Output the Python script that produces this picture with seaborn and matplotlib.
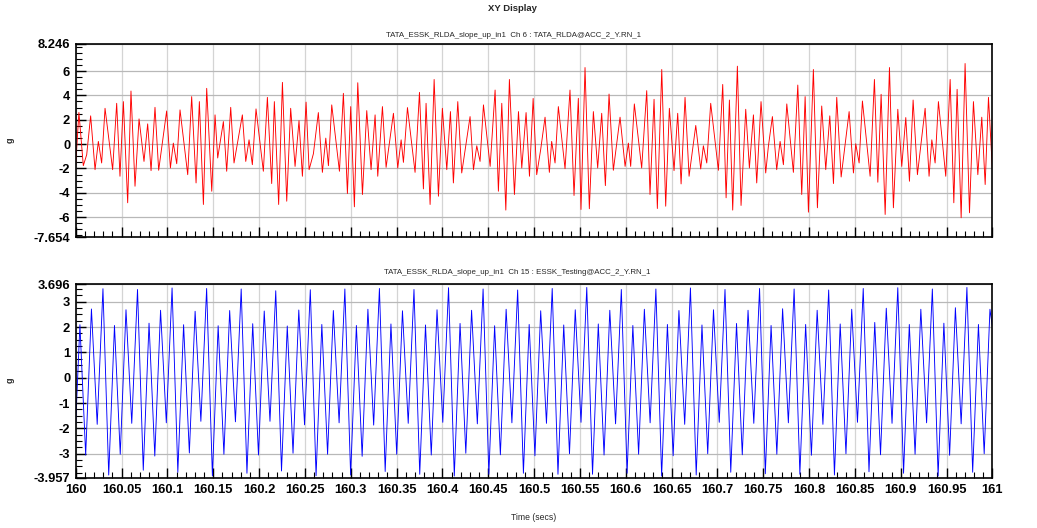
import numpy as np
import pandas as pd
import matplotlib
matplotlib.use("Agg")
import matplotlib.pyplot as plt
from matplotlib.ticker import FixedLocator, MultipleLocator
import seaborn as sns

# ---------------- data ----------------
T_START = 160.0
T_END = 161.0

# Channel 6 (red): extrema, time offset in ms from 160 s, value in g
red_ms = [0, 3.5, 8.3, 12.0, 16.3, 21.1, 24.7, 28.3, 32.0, 40.3, 44.7, 48.3, 52.0, 56.7, 60.3, 64.7,
          69.1, 74.5, 78.5, 82.2, 86.5, 90.5, 99.2, 103.3, 106.5, 110.2, 113.8, 122.2, 126.5, 131.3,
          134.9, 139.3, 142.9, 148.4, 152.0, 154.9, 161.1, 164.7, 169.1, 172.7, 181.8, 185.5, 189.1,
          192.7, 196.7, 204.7, 209.1, 213.8, 216.7, 221.4, 225.5, 230.2, 234.5, 239.3, 243.6, 247.3,
          251.3, 254.6, 259.3, 264.7, 269.1, 272.8, 275.7, 279.3, 287.7, 292.0, 296.4, 300.0, 304.0,
          307.7, 312.8, 317.5, 322.2, 326.6, 329.5, 334.6, 338.6, 346.6, 351.3, 355.0, 357.5, 361.9,
          370.2, 375.0, 379.3, 382.2, 386.6, 391.0, 395.7, 400.0, 404.8, 408.8, 412.0, 416.8, 421.1,
          430.2, 433.9, 437.5, 441.1, 444.8, 452.1, 457.5, 461.1, 464.8, 469.2, 473.1, 478.6, 483.0,
          486.6, 491.3, 495.0, 499.0, 502.9, 507.2, 512.0, 516.7, 519.2, 522.9, 526.5, 533.8, 539.2,
          543.6, 548.3, 551.2, 555.6, 560.3, 564.7, 569.4, 573.8, 577.8, 581.8, 586.5, 593.8, 599.3,
          602.9, 605.4, 609.4, 617.4, 622.9, 626.5, 630.9, 634.5, 639.3, 643.6, 647.6, 652.7, 656.7,
          660.4, 664.7, 669.1, 676.4, 681.8, 684.7, 688.4, 692.7, 701.1, 705.8, 709.5, 713.1, 716.7,
          721.8, 725.8, 730.9, 734.9, 739.3, 742.9, 747.6, 752.7, 755.6, 760.0, 764.7, 768.4, 772.0,
          775.7, 782.9, 787.7, 792.0, 795.7, 799.3, 804.7, 809.1, 813.8, 818.2, 822.6, 826.6, 830.2,
          835.0, 843.7, 848.4, 850.9, 854.6, 858.2, 866.6, 871.3, 875.0, 878.6, 883.0, 887.7, 892.0,
          896.8, 901.1, 905.5, 909.5, 913.5, 918.2, 926.6, 930.9, 933.9, 937.5, 941.1, 949.1, 953.9,
          957.9, 961.5, 965.9, 970.2, 975.0, 979.3, 984.1, 988.4, 992.1, 995.7, 1000.0]
red_g = [-1.7, 2.6, -1.77, -0.87, 2.32, -2.10, 0.22, -1.55, 2.94, -2.10, 3.35, -2.64, 3.49, -4.82, 4.36, -3.46,
         2.07, -1.42, 1.66, -2.18, 3.02, -2.15, 2.72, -1.96, 0.08, -1.61, 2.81, -2.51, 3.90, -3.19,
         3.49, -4.96, 4.58, -3.87, 2.40, -1.14, 1.85, -2.23, 3.02, -1.55, 2.40, -1.42, 0.35,
         -1.69, 2.89, -2.23, 3.84, -3.24, 3.49, -4.96, 5.07, -4.69, 2.94, -1.83, 1.93, -2.64,
         3.45, -2.10, -0.79, 2.59, -2.32, 0.49, -1.77, 3.22, -2.23, 4.17, -4.06, 3.08, -5.15,
         5.04, -4.14, 2.75, -2.10, 2.40, -2.64, 3.08, -1.91, 2.53, -1.96, 0.35, -1.50, 3.00,
         -2.32, 4.25, -3.68, 3.35, -4.96, 5.31, -4.28, 2.94, -2.10, 2.67, -3.19, 3.49, -2.37,
         2.26, -2.10, -0.14, -1.42, 3.22, -1.83, 4.44, -3.87, 3.35, -5.42, 5.31, -4.14, 2.67,
         -1.96, 2.59, -2.64, 3.75, -2.51, -0.46, 2.21, -2.32, 0.22, -1.55, 3.08, -2.02, 4.44,
         -4.22, 3.76, -5.37, 6.29, -5.31, 2.67, -1.96, 2.53, -3.41, 4.11, -2.15, 2.21, -1.83,
         0.08, -1.83, 3.30, -1.96, 4.39, -4.14, 3.68, -5.29, 6.13, -5.10, 2.94, -2.18, 2.53,
         -3.27, 3.84, -2.64, 1.53, -2.04, -0.14, -1.55, 3.35, -2.15, 4.90, -4.41, 3.62, -5.42,
         6.40, -5.04, 2.86, -1.96, 2.40, -3.19, 3.49, -2.37, -0.19, 2.26, -2.10, 0.22, -1.69,
         3.30, -2.32, 4.85, -4.14, 3.90, -5.59, 6.13, -5.23, 3.13, -2.10, 2.32, -3.24, 3.84,
         -2.70, 2.67, -2.37, 0.03, -1.55, 3.54, -2.64, 5.31, -3.13, 4.09, -5.78, 6.29, -5.23,
         2.86, -1.83, 2.18, -3.05, 3.62, -2.51, 2.94, -2.64, 0.35, -1.55, 3.49, -2.64, 5.31,
         -4.82, 4.50, -6.05, 6.62, -5.64, 3.49, -2.51, 2.21, -3.32, 3.84, -2.10]

# Channel 15 (blue): quasi-periodic signal, one value per extremum type per 3-cycle group
BLUE_FIRST_MS = 4.6      # time of the first extremum
BLUE_HALF_MS = 6.283     # spacing between successive extrema
blue_start_g = -1.8
blue_end_g = 2.0
blue_small_peak = [2.09, 2.06, 2.15, 2.09, 2.05, 2.13, 2.04, 2.10, 2.06, 2.12, 2.08, 2.14, 2.05, 2.10,
                   2.08, 2.12, 2.06, 2.10, 2.08, 2.14, 2.06, 2.10, 2.12, 2.18, 2.10, 2.15, 2.10]
blue_mid_trough = [-3.05, -3.02, -3.09, -2.97, -3.02, -3.05, -2.98, -3.02, -3.10, -3.02, -3.05, -2.98,
                   -3.04, -3.08, -3.00, -3.05, -3.02, -3.08, -3.00, -3.04, -3.02, -3.06, -3.00,
                   -3.04, -3.02, -3.06, -3.00]
blue_mid_peak = [2.71, 2.68, 2.66, 2.62, 2.65, 2.63, 2.67, 2.65, 2.70, 2.64, 2.68, 2.66, 2.70, 2.64,
                 2.68, 2.66, 2.70, 2.65, 2.68, 2.66, 2.72, 2.66, 2.70, 2.74, 2.70, 2.76, 2.70]
blue_shallow_trough = [-1.84, -1.80, -1.78, -1.72, -1.74, -1.72, -1.86, -1.78, -1.87, -1.80, -1.76,
                       -1.82, -1.78, -1.80, -1.76, -1.82, -1.78, -1.84, -1.76, -1.80, -1.78, -1.84,
                       -1.76, -1.80, -1.78, -1.82]
blue_tall_peak = [3.51, 3.48, 3.54, 3.52, 3.50, 3.43, 3.47, 3.50, 3.52, 3.48, 3.55, 3.50, 3.46, 3.52,
                  3.56, 3.48, 3.50, 3.54, 3.48, 3.52, 3.50, 3.46, 3.52, 3.55, 3.50, 3.56]
blue_deep_trough = [-3.84, -3.65, -3.73, -3.87, -3.77, -3.68, -3.87, -3.84, -3.70, -3.81, -3.88, -3.81,
                    -3.77, -3.81, -3.81, -3.77, -3.88, -3.84, -3.73, -3.79, -3.81, -3.84, -3.71,
                    -3.77, -3.88, -3.73]

top_title = "TATA_ESSK_RLDA_slope_up_in1  Ch 6 : TATA_RLDA@ACC_2_Y.RN_1"
bot_title = "TATA_ESSK_RLDA_slope_up_in1  Ch 15 : ESSK_Testing@ACC_2_Y.RN_1"
top_ylim = (-7.654, 8.246)
bot_ylim = (-3.957, 3.696)
top_yticks = [-7.654, -6, -4, -2, 0, 2, 4, 6, 8.246]
bot_yticks = [-3.957, -3, -2, -1, 0, 1, 2, 3, 3.696]
x_ticks = [160, 160.05, 160.1, 160.15, 160.2, 160.25, 160.3, 160.35, 160.4, 160.45, 160.5, 160.55,
           160.6, 160.65, 160.7, 160.75, 160.8, 160.85, 160.9, 160.95, 161]
x_ticklabels = ["160", "160.05", "160.1", "160.15", "160.2", "160.25", "160.3", "160.35", "160.4",
                "160.45", "160.5", "160.55", "160.6", "160.65", "160.7", "160.75", "160.8", "160.85",
                "160.9", "160.95", "161"]

# ---------------- build tables ----------------
red_df = pd.DataFrame({"t": T_START + np.array(red_ms) / 1000.0, "g": red_g})

blue_vals = []
for j in range(len(blue_small_peak)):
    blue_vals += [blue_small_peak[j], blue_mid_trough[j], blue_mid_peak[j]]
    if j < len(blue_deep_trough):
        blue_vals += [blue_shallow_trough[j], blue_tall_peak[j], blue_deep_trough[j]]
blue_ms = BLUE_FIRST_MS + BLUE_HALF_MS * np.arange(len(blue_vals))
blue_t = np.concatenate([[0.0], blue_ms, [1000.0]])
blue_g = np.concatenate([[blue_start_g], blue_vals, [blue_end_g]])
blue_df = pd.DataFrame({"t": T_START + blue_t / 1000.0, "g": blue_g})

# ---------------- style ----------------
sns.set_theme(style="white")
plt.rcParams["font.family"] = ["Liberation Sans", "DejaVu Sans"]

fig = plt.figure(figsize=(10.37, 5.28), dpi=100)
ax1 = fig.add_axes([0.073, 0.5506, 0.884, 0.3666])
ax2 = fig.add_axes([0.073, 0.0947, 0.884, 0.3674])

sns.lineplot(data=red_df, x="t", y="g", ax=ax1, color="#ff0000", linewidth=0.65,
             estimator=None, sort=False)
sns.lineplot(data=blue_df, x="t", y="g", ax=ax2, color="#0000ff", linewidth=0.65,
             estimator=None, sort=False)


def style_axes(ax, ylim, yticks, yminor, show_xlabels):
    ax.set_xlim(T_START, T_END)
    ax.set_ylim(*ylim)
    ax.set_xlabel("")
    ax.set_ylabel("")
    ax.set_facecolor("white")
    ax.xaxis.set_major_locator(FixedLocator(x_ticks))
    ax.xaxis.set_minor_locator(MultipleLocator(0.01))
    ax.yaxis.set_major_locator(FixedLocator(yticks))
    ax.yaxis.set_minor_locator(MultipleLocator(yminor))
    ax.set_yticklabels([("%g" % v) for v in yticks])
    if show_xlabels:
        ax.set_xticklabels(x_ticklabels)
    else:
        ax.set_xticklabels([])
    ax.tick_params(axis="both", which="major", direction="in", length=7, width=1.0,
                   color="black", labelsize=9.3, pad=4, left=True, bottom=True)
    ax.tick_params(axis="both", which="minor", direction="in", length=4, width=0.8,
                   color="black", left=True, bottom=True)
    for lab in ax.get_xticklabels() + ax.get_yticklabels():
        lab.set_fontweight("bold")
        lab.set_color("black")
    ax.grid(True, which="major", axis="x", color="#d4d4d4", linewidth=0.9)
    ax.grid(True, which="major", axis="y", color="#b8b8b8", linewidth=0.9)
    ax.set_axisbelow(True)
    for s in ax.spines.values():
        s.set_visible(True)
        s.set_color("black")
        s.set_linewidth(1.2)


style_axes(ax1, top_ylim, top_yticks, 0.5, False)
style_axes(ax2, bot_ylim, bot_yticks, 0.25, True)

fig.text(0.494, 0.984, "XY Display", ha="center", va="center", fontsize=6.8, fontweight="bold")
fig.text(0.495, 0.932, top_title, ha="center", va="center", fontsize=5.7)
fig.text(0.499, 0.483, bot_title, ha="center", va="center", fontsize=5.7)
fig.text(0.010, 0.735, "g", ha="center", va="center", rotation=90, fontsize=6.5, fontweight="bold")
fig.text(0.010, 0.280, "g", ha="center", va="center", rotation=90, fontsize=6.5, fontweight="bold")
fig.text(0.515, 0.019, "Time (secs)", ha="center", va="center", fontsize=6.2)

fig.savefig("out.png", dpi=100, facecolor="white")
